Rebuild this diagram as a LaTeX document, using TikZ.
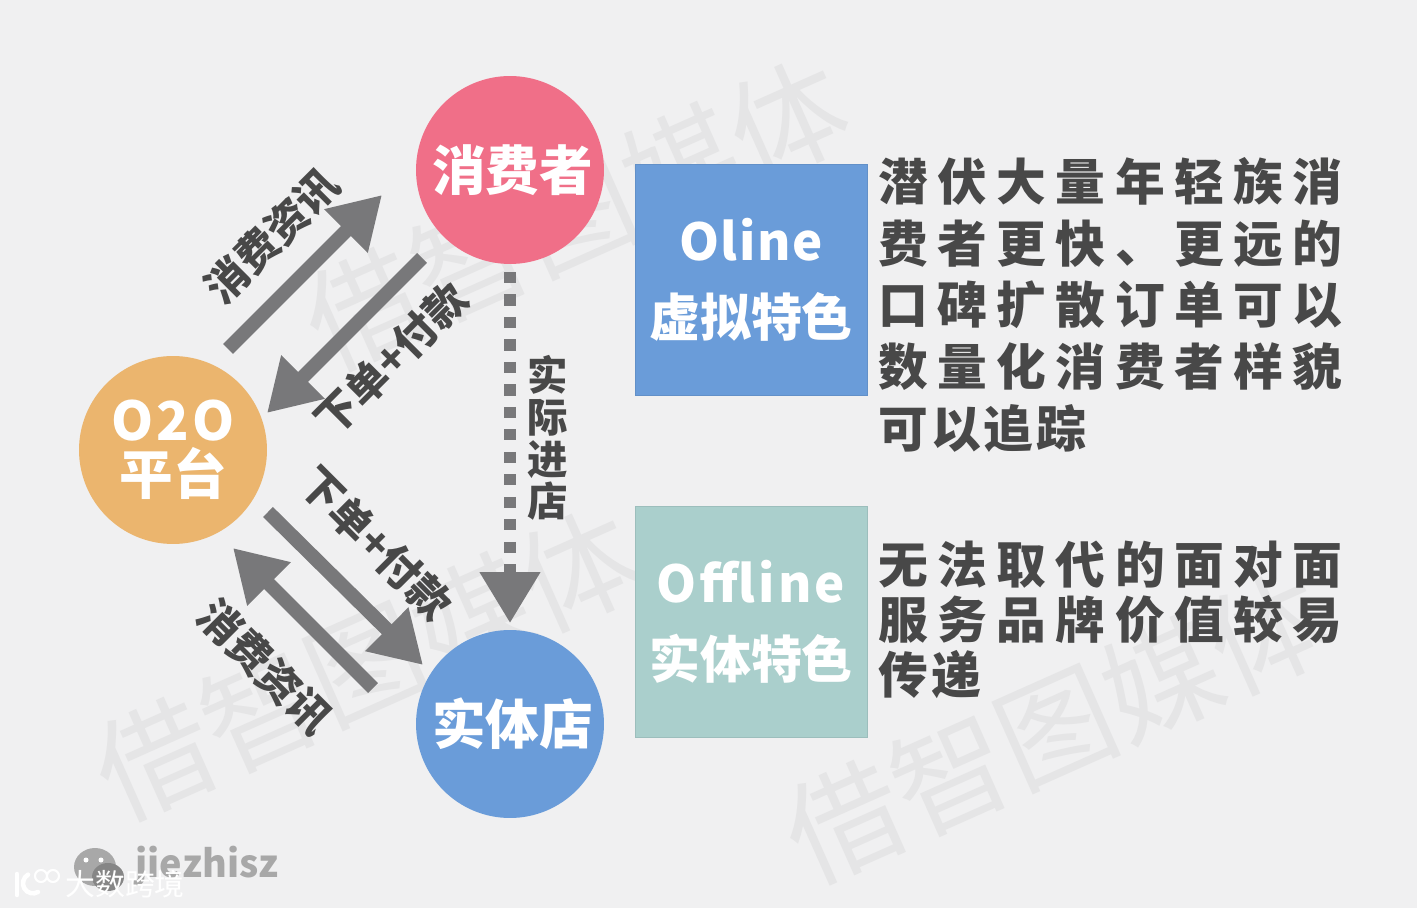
\documentclass[tikz,border=0pt]{standalone}
\usepackage{fontspec}
\usepackage{xcolor}
\setmainfont{Noto Sans CJK SC}
\newfontfamily\spacedcjk[LetterSpace=19]{Noto Sans CJK SC}
\newfontfamily\tightcjk[LetterSpace=6]{Noto Sans CJK SC}
\newfontfamily\spacedlat[LetterSpace=6]{Noto Sans CJK SC}
\newfontfamily\slimlat[LetterSpace=3]{Noto Sans CJK SC}
\usetikzlibrary{positioning, arrows.meta}
\definecolor{paper}{HTML}{F0F0F1}
\definecolor{mark}{HTML}{E5E5E6}
\definecolor{ink}{HTML}{484848}
\definecolor{shaft}{HTML}{78787A}
\definecolor{rose}{HTML}{F06F88}
\definecolor{amber}{HTML}{EBB56E}
\definecolor{sky}{HTML}{6A9CD9}
\definecolor{sage}{HTML}{AACFCC}
\definecolor{logo}{HTML}{A8A8A8}

\begin{document}
\begin{tikzpicture}[
  x=0.02cm, y=-0.02cm,
  party/.style={circle, minimum size=3.76cm, inner sep=0pt, align=center, text=white, font=\fontsize{30.5}{30.6}\selectfont\bfseries},
  panel/.style={rectangle, draw=#1!92!black, line width=0.4pt, fill=#1, minimum width=4.64cm, minimum height=4.62cm, inner sep=0pt, align=center, text=white, font=\fontsize{29}{43}\selectfont\bfseries},
  note/.style={anchor=north west, inner sep=0pt, align=left, text=ink, font=\fontsize{28.3}{35.1}\selectfont\bfseries\spacedcjk},
  tag/.style={inner sep=0pt, text=ink, font=\fontsize{24}{24}\selectfont\bfseries},
  wmark/.style={inner sep=0pt, rotate=24, text=mark, font=\fontsize{66}{70}\selectfont},
  arr/.style={-{Triangle[length=29pt, width=33pt]}, line width=8pt, shaft}
]
  \fill[paper] (0,0) rectangle (1417,908);
  \useasboundingbox (0,0) rectangle (1417,908);

  % Watermarks
  \node[wmark] (w1) at (576,214) {借智图媒体};
  \node[wmark] (w2) at (366,664) {借智图媒体};
  \node[wmark] (w3) at (1056,727) {借智图媒体};

  % Parties
  \node[party, fill=rose] (buyer) at (510,170) {\hspace{3pt}消费者};
  \node[party, fill=amber] (o2o) at (173,450) {{\spacedlat O2O}\\平台};
  \node[party, fill=sky] (shop) at (510,724) {\hspace{3pt}实体店};

  % Panels
  \node[panel=sky] (online) at (751,279.5) {{\slimlat Oline}\\虚拟特色};
  \node[panel=sage] (offline) at (751,621.5) {{\spacedlat Offline}\\实体特色};

  \node[note] (ontext) at (878,157) {潜伏大量年轻族消\\费者更快、更远的\\口碑扩散订单可以\\数量化消费者样貌\\{\tightcjk 可以追踪}};
  \node[note, font=\fontsize{28.3}{31.2}\selectfont\bfseries\spacedcjk] (offtext) at (878,541) {无法取代的面对面\\服务品牌价值较易\\{\tightcjk 传递}};

  % Free ends of the arrows
  \coordinate (a1) at (228,349);
  \coordinate (b1) at (382,195);
  \coordinate (a2) at (422,258);
  \coordinate (b2) at (267,413);
  \coordinate (a3) at (268,512);
  \coordinate (b3) at (423,665);
  \coordinate (a4) at (373,688);
  \coordinate (b4) at (233,548);
  \coordinate (a5) at (510,272);
  \coordinate (b5) at (510,623);

  \draw[arr] (a1) -- (b1);
  \draw[arr] (a2) -- (b2);
  \draw[arr] (a3) -- (b3);
  \draw[arr] (a4) -- (b4);
  \draw[arr, line width=6.3pt, dash pattern=on 6.3pt off 6.5pt] (a5) -- (b5);

  % Arrow labels
  \node[tag, rotate=45] (l1) at (272,236) {消费资讯};
  \node[tag, rotate=45] (l2) at (391,359) {下单+付款};
  \node[tag, rotate=-45] (l3) at (376,543) {下单+付款};
  \node[tag, rotate=-45] (l4) at (265,667) {消费资讯};
  \node[tag, align=center, font=\fontsize{23}{24}\selectfont\bfseries] (l5) at (548,438) {实\\际\\进\\店};

  % Signature
  \fill[logo] (95,867) ellipse (21 and 19);
  \fill[white] (86,860) circle (2.5);
  \fill[white] (101,860) circle (2.5);
  \fill[logo!80!black] (108,877) ellipse (16 and 14);
  \node[inner sep=0pt, text=logo, font=\fontsize{21.5}{22}\selectfont\bfseries] (sign) at (207,866) {jiezhisz};
  \node[inner sep=0pt, text=white, font=\fontsize{17}{18}\selectfont] (brand) at (125,884) {大数跨境};
  \draw[white, line width=2.6pt, line cap=round] (17,874) -- (17,895);
  \draw[white, line width=2.6pt, line cap=round] (38,892) arc (60:240:10 and 10);
  \draw[white, line width=1.2pt] (41,876) circle (6);
  \draw[white, line width=1.2pt] (53,876) circle (6);
\end{tikzpicture}
\end{document}
